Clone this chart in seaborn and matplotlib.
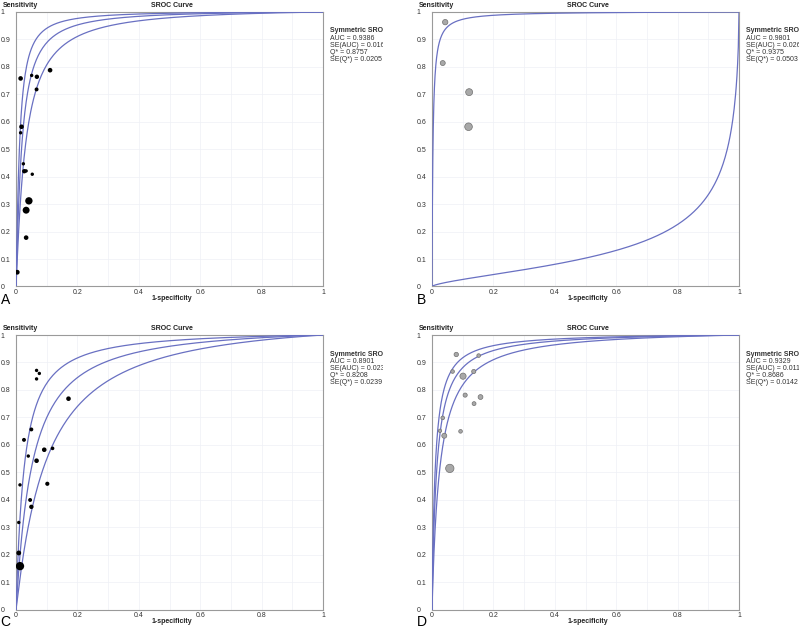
import numpy as np
import pandas as pd
import matplotlib
matplotlib.use("Agg")
import matplotlib.pyplot as plt
import seaborn as sns
from matplotlib.transforms import Bbox, TransformedBbox

# ---- data ----
# panel A (black dots)
a_fpr = [0.015, 0.051, 0.068, 0.111, 0.067, 0.018, 0.015, 0.024, 0.027, 0.033, 0.053, 0.042, 0.033, 0.033, 0.004]
a_tpr = [0.758, 0.769, 0.764, 0.788, 0.718, 0.582, 0.560, 0.447, 0.420, 0.421, 0.409, 0.312, 0.278, 0.178, 0.052]
a_w = [11, 6, 10, 11, 8, 11, 6, 6, 10, 6, 6, 28, 25, 11, 12]
# panel B (grey dots)
b_fpr = [0.043, 0.035, 0.121, 0.119]
b_tpr = [0.963, 0.814, 0.708, 0.582]
b_w = [15, 13, 25, 30]
# panel C (black dots)
c_fpr = [0.067, 0.076, 0.067, 0.171, 0.050, 0.026, 0.040, 0.092, 0.119, 0.067, 0.013, 0.102, 0.046, 0.050, 0.009, 0.009, 0.013]
c_tpr = [0.871, 0.860, 0.840, 0.768, 0.656, 0.618, 0.559, 0.582, 0.587, 0.542, 0.454, 0.458, 0.399, 0.374, 0.317, 0.206, 0.158]
c_w = [6, 6, 6, 11, 8, 8, 6, 11, 7, 11, 6, 9, 8, 10, 6, 12, 36]
# panel D (grey dots)
d_fpr = [0.079, 0.152, 0.067, 0.101, 0.136, 0.108, 0.158, 0.137, 0.035, 0.026, 0.040, 0.093, 0.058]
d_tpr = [0.929, 0.925, 0.867, 0.850, 0.867, 0.781, 0.774, 0.750, 0.698, 0.651, 0.633, 0.649, 0.514]
d_w = [10, 7, 7, 20, 9, 9, 12, 8, 7, 6, 13, 7, 36]

# SROC curves: logit(sens) = intercept + slope * logit(1-spec)
a_curves = [(5.4, 1.2), (4.6, 1.15), (3.85, 1.1)]
b_curves = [(5.8, 1.0), (-2.16, 0.67)]
c_curves = [(3.85, 1.05), (3.15, 1.05), (2.5, 1.05)]
d_curves = [(4.6, 1.0), (4.2, 1.0), (3.7, 1.0)]

a_stats = ["AUC = 0.9386", "SE(AUC) = 0.0164", "Q* = 0.8757", "SE(Q*) = 0.0205"]
b_stats = ["AUC = 0.9801", "SE(AUC) = 0.0267", "Q* = 0.9375", "SE(Q*) = 0.0503"]
c_stats = ["AUC = 0.8901", "SE(AUC) = 0.0230", "Q* = 0.8208", "SE(Q*) = 0.0239"]
d_stats = ["AUC = 0.9329", "SE(AUC) = 0.0110", "Q* = 0.8686", "SE(Q*) = 0.0142"]

x_ticks = [0, 0.2, 0.4, 0.6, 0.8, 1]
x_labels = ["0", "0.2", "0.4", "0.6", "0.8", "1"]
y_ticks = [0, 0.1, 0.2, 0.3, 0.4, 0.5, 0.6, 0.7, 0.8, 0.9, 1]
y_labels = ["0", "0.1", "0.2", "0.3", "0.4", "0.5", "0.6", "0.7", "0.8", "0.9", "1"]

sns.set_theme(style="white")
plt.rcParams['font.family'] = ['Liberation Sans', 'DejaVu Sans']

W, H = 800, 628
fig = plt.figure(figsize=(8, 6.28), dpi=100)


def fx(x):
    return x / W


def fy(y):
    return 1 - y / H


grid = np.concatenate([np.logspace(-7, -1, 300), np.linspace(0.1, 1 - 1e-7, 400)])
logit_g = np.log(grid / (1 - grid))

line_col = "#6970c2"
panels = [
    ("A", 0, 0, a_fpr, a_tpr, a_w, a_curves, a_stats, "black", "black"),
    ("B", 416, 0, b_fpr, b_tpr, b_w, b_curves, b_stats, "#a8a8a8", "#707070"),
    ("C", 0, 323, c_fpr, c_tpr, c_w, c_curves, c_stats, "black", "black"),
    ("D", 416, 323, d_fpr, d_tpr, d_w, d_curves, d_stats, "#a8a8a8", "#707070"),
]

for letter, dx, dy, fpr, tpr, w, curves, stats, fc, ec in panels:
    left, right, top, bottom = 16 + dx, 323 + dx, 12 + dy, 286.5 + dy
    ax = fig.add_axes([fx(left), fy(bottom), (right - left) / W, (bottom - top) / H])

    for icpt, slope in curves:
        sens = 1 / (1 + np.exp(-(icpt + slope * logit_g)))
        xs = np.concatenate([[0], grid, [1]])
        ys = np.concatenate([[0], sens, [1]])
        sns.lineplot(x=xs, y=ys, ax=ax, color=line_col, lw=0.9, sort=False,
                     estimator=None, zorder=3)

    df = pd.DataFrame({"fpr": fpr, "tpr": tpr, "w": w})
    sns.scatterplot(data=df, x="fpr", y="tpr", size="w", sizes=(0, 100),
                    size_norm=(0, 100), color=fc, edgecolor=ec,
                    linewidth=0.5 if fc != "black" else 0, legend=False,
                    ax=ax, zorder=4)

    ax.set_xlim(0, 1)
    ax.set_ylim(0, 1)
    ax.set_xticks(x_ticks)
    ax.set_xticklabels(x_labels)
    ax.set_yticks(y_ticks)
    ax.set_yticklabels(y_labels)
    ax.set_xticks(np.arange(0.1, 1.0, 0.1), minor=True)
    ax.grid(True, which="both", color="#eef0f6", lw=0.5)
    ax.set_xlabel("")
    ax.set_ylabel("")
    ax.tick_params(axis="both", length=0, labelsize=5, colors="#333333")
    ax.tick_params(axis="y", pad=11)
    ax.tick_params(axis="x", pad=2)
    for lab in ax.get_yticklabels():
        lab.set_ha("left")
    for sp in ax.spines.values():
        sp.set_color("#9a9a9a")
        sp.set_linewidth(0.8)

    fig.text(fx(3 + dx), fy(5.5 + dy), "Sensitivity", fontsize=5, fontweight="bold",
             ha="left", va="center", color="#222222")
    fig.text(fx(172 + dx), fy(5.5 + dy), "SROC Curve", fontsize=5, fontweight="bold",
             ha="center", va="center", color="#222222")
    fig.text(fx(172 + dx), fy(298.5 + dy), "1-specificity", fontsize=5, fontweight="bold",
             ha="center", va="center", color="#222222")
    fig.text(fx(0.5 + dx), fy(299.5 + dy), letter, fontsize=10, ha="left", va="center",
             color="black")

    # the stats block is cropped at the panel edge, as in the source figure
    clip = TransformedBbox(Bbox([[0, fy(dy + 300)], [fx(dx + 383), fy(dy)]]), fig.transFigure)
    lines = ["Symmetric SROC"] + stats
    for i, s in enumerate(lines):
        t = fig.text(fx(330 + dx), fy(31 + dy + 7.2 * i), s, fontsize=5,
                     fontweight="bold" if i == 0 else "normal",
                     ha="left", va="center", color="#333333")
        t.set_clip_on(True)
        t.set_clip_box(clip)

fig.savefig("out.png", dpi=100)
